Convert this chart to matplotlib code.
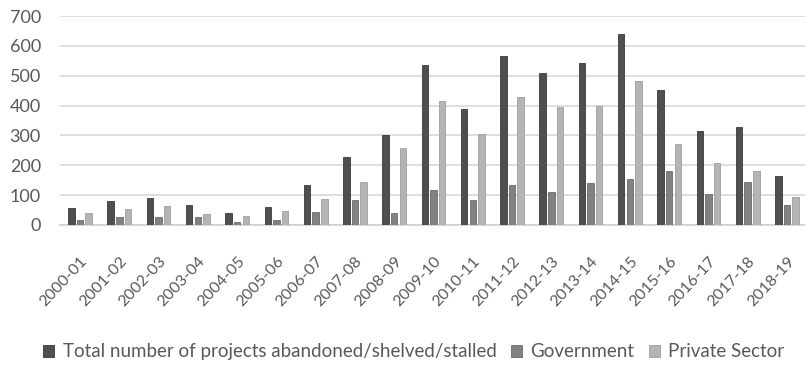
import numpy as np
import matplotlib.pyplot as plt

# Projects abandoned/shelved/stalled per year
years = ['2000-01', '2001-02', '2002-03', '2003-04', '2004-05', '2005-06', '2006-07',
         '2007-08', '2008-09', '2009-10', '2010-11', '2011-12', '2012-13', '2013-14',
         '2014-15', '2015-16', '2016-17', '2017-18', '2018-19']
total = [57, 81, 89, 68, 40, 60, 132, 229, 301, 535, 390, 565, 508, 541, 641, 453, 315, 327, 164]
government = [17, 25, 25, 27, 10, 15, 44, 84, 41, 117, 84, 133, 111, 141, 155, 179, 105, 144, 68]
private = [41, 52, 62, 38, 28, 45, 86, 143, 257, 416, 304, 430, 396, 397, 481, 271, 208, 180, 94]

plt.rcParams['font.family'] = ['Lato', 'DejaVu Sans']
txt = '#595959'

fig = plt.figure(figsize=(8.05, 3.65), dpi=100)
ax = fig.add_axes([0.075, 0.384, 0.927, 0.572])

x = np.arange(len(years))
w = 0.165
step = 0.22
ax.bar(x - step, total, w, color='#4f4f4f', edgecolor='#3a3a3a', linewidth=0.6,
       label='Total number of projects abandoned/shelved/stalled', zorder=3)
ax.bar(x, government, w, color='#828282', edgecolor='#6a6a6a', linewidth=0.6,
       label='Government', zorder=3)
ax.bar(x + step, private, w, color='#b4b4b4', edgecolor='#9e9e9e', linewidth=0.6,
       label='Private Sector', zorder=3)

ax.set_xlim(-0.5, len(years) - 0.5)
ax.set_ylim(0, 700)
ax.set_yticks(range(0, 701, 100))
ax.yaxis.grid(True, color='#d9d9d9', linewidth=1.2, zorder=0)
for s in ['top', 'right', 'left']:
    ax.spines[s].set_visible(False)
ax.spines['bottom'].set_color('#d0d0d0')
ax.spines['bottom'].set_linewidth(1.2)
ax.tick_params(axis='both', length=0, colors=txt)
ax.tick_params(axis='y', labelsize=13, pad=14)
ax.set_xticks(x)
ax.set_xticklabels(years, rotation=47, ha='right', rotation_mode='anchor', fontsize=11.5)
ax.tick_params(axis='x', pad=21)

fig.legend(loc='center', bbox_to_anchor=(0.514, 0.036), ncol=3, frameon=False,
           fontsize=13.5, labelcolor=txt, handlelength=0.6, handleheight=0.6,
           handletextpad=0.45, columnspacing=0.75)

fig.savefig('out.png', dpi=100)
